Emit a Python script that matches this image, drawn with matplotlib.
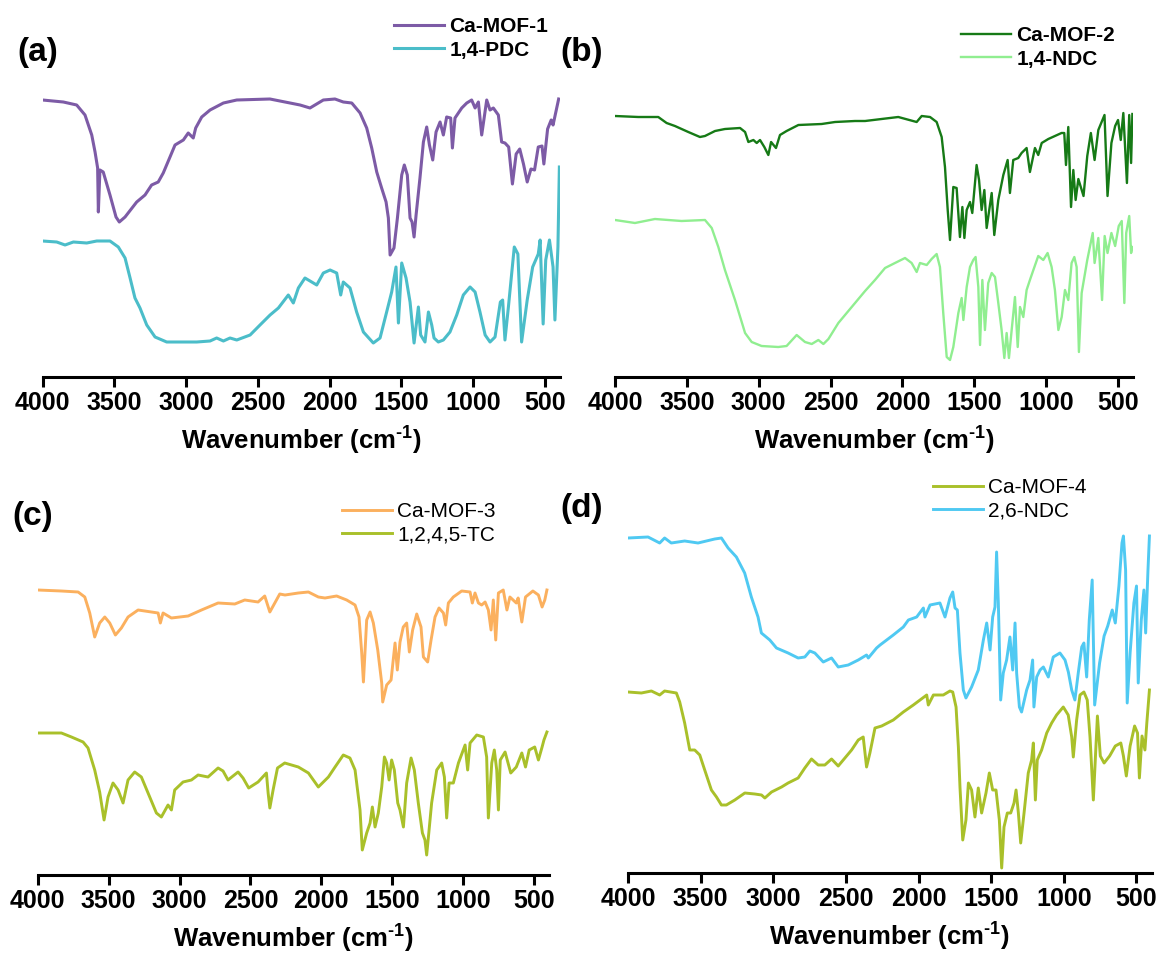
import matplotlib
matplotlib.use('Agg')
import matplotlib.pyplot as plt

plt.rcParams['font.family'] = ['Liberation Sans', 'DejaVu Sans']
plt.rcParams['mathtext.fontset'] = 'custom'
plt.rcParams['mathtext.bf'] = 'Liberation Sans:bold'
plt.rcParams['mathtext.rm'] = 'Liberation Sans:bold'

# ---- data (wavenumber in cm-1, transmittance in a.u.) ----
# (a) Ca-MOF-1 / 1,4-PDC
mof1_wn = [4000, 3855, 3762, 3704, 3657, 3634, 3616, 3611, 3600, 3577, 3530, 3488, 3465, 3425,
           3344, 3286, 3240, 3194, 3159, 3112, 3077, 3019, 2985, 2950, 2933, 2891, 2833, 2740,
           2647, 2416, 2276, 2206, 2137, 2044, 1963, 1905, 1846, 1788, 1742, 1707, 1672, 1638,
           1607, 1591, 1579, 1552, 1528, 1498, 1480, 1459, 1440, 1426, 1412, 1398, 1371, 1347,
           1324, 1305, 1282, 1259, 1231, 1208, 1185, 1157, 1145, 1127, 1080, 1045, 1011, 987,
           964, 941, 906, 883, 860, 825, 802, 779, 753, 727, 701, 676, 650, 624, 598, 573, 547,
           521, 508, 482, 457, 444, 405]
mof1_t = [277, 275, 272, 262, 242, 225, 209, 165, 207, 205, 182, 160, 155, 160,
          175, 182, 192, 195, 204, 220, 232, 237, 244, 239, 249, 260, 267, 274,
          277, 278, 274, 272, 269, 277, 278, 275, 274, 264, 249, 229, 205, 189,
          175, 159, 122, 129, 159, 202, 212, 202, 159, 155, 140, 162, 199, 235,
          250, 232, 217, 245, 255, 242, 260, 259, 229, 259, 269, 274, 277, 269,
          275, 242, 277, 267, 269, 262, 235, 234, 230, 193, 223, 228, 213, 195, 208, 207, 230,
          231, 213, 248, 257, 252, 278]

pdc_wn = [4000, 3901, 3843, 3785, 3692, 3622, 3530, 3472, 3425, 3390, 3356, 3321, 3274, 3216,
          3135, 2926, 2833, 2787, 2740, 2694, 2647, 2554, 2485, 2415, 2357, 2288, 2253, 2218,
          2172, 2125, 2090, 2044, 1997, 1951, 1923, 1905, 1858, 1812, 1765, 1696, 1649, 1603,
          1568, 1538, 1521, 1498, 1468, 1440, 1412, 1382, 1366, 1336, 1312, 1289, 1273, 1243,
          1208, 1162, 1115, 1069, 1022, 987, 953, 917, 883, 848, 811, 795, 779, 755, 714, 689,
          663, 624, 586, 547, 534, 513, 495, 469, 444, 431, 410, 400]
pdc_t = [136, 135, 132, 135, 134, 136, 136, 130, 119, 99, 79, 69, 52, 40,
         35, 35, 36, 39, 36, 39, 37, 42, 52, 62, 69, 82, 74, 89,
         99, 95, 92, 104, 107, 104, 82, 95, 89, 65, 45, 34, 39, 65,
         85, 110, 54, 114, 99, 75, 34, 70, 42, 35, 65, 52, 39, 35,
         37, 45, 62, 82, 90, 85, 65, 42, 35, 40, 75, 77, 37, 70, 130, 123,
         35, 77, 110, 123, 137, 53, 117, 137, 110, 57, 130, 210]

# (b) Ca-MOF-2 / 1,4-NDC
mof2_wn = [4000, 3838, 3699, 3641, 3583, 3490, 3409, 3374, 3304, 3235, 3130, 3095, 3072, 3037,
           3014, 2991, 2961, 2933, 2914, 2880, 2852, 2806, 2724, 2562, 2469, 2330, 2260, 2145,
           2029, 1901, 1866, 1808, 1762, 1727, 1704, 1685, 1669, 1646, 1623, 1600, 1583, 1569,
           1553, 1530, 1514, 1484, 1467, 1449, 1430, 1414, 1379, 1361, 1333, 1298, 1268, 1252,
           1229, 1194, 1171, 1136, 1113, 1078, 1055, 1031, 985, 939, 893, 874, 862, 846, 827,
           811, 795, 776, 740, 714, 689, 663, 637, 594, 573, 546, 520, 500, 481, 463, 438, 422,
           409, 400]
mof2_t = [261, 260, 260, 254, 251, 245, 240, 241, 246, 248, 249, 245, 235, 237,
          234, 237, 230, 222, 235, 229, 242, 246, 252, 253, 255, 256, 256, 258,
          260, 255, 261, 260, 255, 240, 210, 167, 137, 190, 189, 140, 170, 139,
          167, 175, 164, 212, 197, 167, 187, 149, 184, 142, 177, 202, 217, 184,
          217, 219, 224, 229, 205, 229, 222, 234, 238, 241, 244, 244, 212, 250, 170,
          207, 177, 198, 181, 221, 244, 217, 247, 262, 181, 234, 251, 257, 237, 264, 194, 262,
          214, 263]

ndc14_wn = [4000, 3861, 3722, 3537, 3374, 3327, 3281, 3235, 3165, 3095, 3049, 2980, 2864, 2806,
            2736, 2678, 2631, 2585, 2550, 2515, 2446, 2353, 2260, 2191, 2121, 2052, 1982, 1936,
            1901, 1878, 1831, 1797, 1762, 1739, 1716, 1692, 1669, 1646, 1611, 1588, 1576, 1553,
            1530, 1507, 1491, 1472, 1460, 1444, 1426, 1403, 1379, 1356, 1333, 1310, 1291, 1275,
            1259, 1240, 1217, 1198, 1182, 1159, 1136, 1113, 1089, 1055, 1020, 990, 962, 939,
            915, 892, 869, 846, 823, 804, 788, 772, 753, 714, 676, 663, 637, 611, 593, 573, 546,
            520, 495, 474, 456, 443, 422, 409, 400]
ndc14_t = [157, 154, 158, 156, 157, 149, 130, 107, 77, 44, 35, 31, 30, 31,
           42, 35, 33, 37, 33, 38, 54, 70, 86, 97, 109, 114, 119, 114,
           105, 114, 112, 118, 123, 110, 64, 20, 17, 30, 64, 79, 57, 90,
           110, 117, 120, 90, 32, 97, 47, 94, 104, 100, 74, 47, 19, 44,
           19, 47, 80, 30, 70, 60, 87, 97, 107, 121, 117, 124, 110, 87,
           47, 60, 87, 77, 114, 120, 110, 25, 84, 117, 144, 114, 139, 77, 141, 124, 144,
           131, 151, 156, 74, 144, 161, 124, 130]

# (c) Ca-MOF-3 / 1,2,4,5-TC
mof3_wn = [4000, 3833, 3715, 3668, 3633, 3598, 3563, 3527, 3492, 3452, 3410, 3363, 3292, 3198,
           3151, 3135, 3116, 3057, 2939, 2845, 2728, 2610, 2540, 2446, 2399, 2363, 2328, 2293,
           2256, 2162, 2091, 2021, 1974, 1892, 1821, 1762, 1734, 1715, 1703, 1680, 1656, 1633,
           1602, 1574, 1567, 1539, 1508, 1480, 1464, 1445, 1422, 1398, 1379, 1356, 1327, 1297,
           1280, 1250, 1226, 1198, 1170, 1139, 1123, 1104, 1069, 1010, 951, 935, 916, 892, 869,
           845, 822, 803, 787, 770, 751, 717, 691, 670, 625, 612, 586, 560, 508, 469, 443, 424,
           409]
mof3_t = [285, 284, 283, 278, 262, 238, 252, 258, 252, 240, 247, 258, 265, 263,
          262, 252, 262, 257, 259, 265, 272, 271, 275, 273, 279, 263, 272, 281,
          280, 282, 283, 278, 277, 279, 275, 270, 258, 222, 193, 255, 263, 252,
          225, 192, 173, 190, 195, 232, 205, 233, 248, 252, 223, 245, 261, 248,
          218, 213, 235, 258, 267, 262, 250, 272, 278, 284, 283, 272, 282, 272, 270,
          273, 265, 245, 275, 235, 282, 285, 265, 278, 272, 277, 253, 278, 284, 280, 268, 275,
          285]

tc_wn = [4000, 3833, 3762, 3680, 3645, 3598, 3563, 3532, 3504, 3469, 3433, 3398, 3363, 3316,
         3269, 3210, 3163, 3128, 3081, 3057, 3034, 2975, 2916, 2869, 2799, 2728, 2693, 2658,
         2587, 2552, 2512, 2446, 2387, 2375, 2363, 2340, 2309, 2258, 2162, 2091, 2021, 1950,
         1903, 1845, 1798, 1762, 1727, 1711, 1680, 1656, 1640, 1621, 1598, 1574, 1555, 1539,
         1522, 1504, 1485, 1461, 1445, 1421, 1398, 1367, 1344, 1316, 1287, 1269, 1257, 1240,
         1222, 1186, 1151, 1132, 1116, 1099, 1069, 1033, 986, 968, 951, 904, 857, 834, 822,
         798, 780, 763, 751, 738, 704, 664, 625, 586, 560, 534, 495, 469, 443, 430, 409]
tc_t = [142, 142, 138, 133, 127, 105, 83, 55, 78, 92, 85, 72, 95, 103,
        98, 78, 62, 58, 70, 65, 85, 93, 95, 100, 98, 107, 104, 95,
        103, 97, 87, 93, 102, 82, 67, 85, 107, 112, 108, 102, 88, 98,
        108, 120, 117, 105, 65, 25, 42, 52, 68, 48, 62, 88, 118, 112,
        95, 115, 105, 72, 65, 48, 92, 117, 105, 72, 42, 35, 20, 45,
        72, 105, 112, 98, 57, 92, 92, 112, 130, 105, 132, 140, 138, 118, 57,
        112, 125, 105, 65, 115, 123, 102, 108, 122, 108, 125, 128, 115, 128, 135, 143]

# (d) Ca-MOF-4 / 2,6-NDC
mof4_wn = [4000, 3908, 3839, 3782, 3748, 3667, 3644, 3610, 3575, 3541, 3506, 3472, 3426, 3391,
           3357, 3323, 3265, 3196, 3127, 3081, 3058, 3012, 2943, 2898, 2829, 2783, 2737, 2691,
           2645, 2599, 2553, 2507, 2461, 2415, 2381, 2358, 2335, 2300, 2254, 2174, 2105, 2036,
           1990, 1944, 1933, 1898, 1830, 1784, 1765, 1742, 1726, 1715, 1696, 1674, 1657, 1635,
           1612, 1589, 1566, 1536, 1513, 1490, 1467, 1444, 1428, 1412, 1389, 1366, 1343, 1329,
           1313, 1297, 1274, 1245, 1222, 1210, 1196, 1183, 1153, 1118, 1084, 1050, 1004, 970,
           946, 935, 912, 889, 862, 839, 820, 797, 787, 769, 749, 723, 685, 646, 608, 590, 570,
           544, 513, 493, 480, 462, 442, 429, 411]
mof4_t = [181, 180, 182, 178, 182, 180, 171, 150, 123, 123, 118, 103, 83, 76,
          68, 68, 73, 80, 79, 78, 75, 81, 86, 90, 95, 105, 114, 108,
          108, 114, 107, 115, 123, 133, 136, 106, 120, 145, 147, 153, 161, 168,
          173, 178, 168, 178, 178, 182, 181, 166, 126, 86, 33, 53, 90, 83,
          56, 85, 60, 80, 100, 83, 83, 53, 5, 46, 60, 60, 70, 83,
          60, 30, 60, 100, 113, 130, 73, 113, 123, 140, 150, 158, 166, 158,
          136, 116, 153, 178, 181, 173, 136, 73, 103, 157, 117, 110, 117, 127, 130, 117, 97,
          127, 147, 140, 95, 137, 123, 150, 183]

ndc26_wn = [4000, 3862, 3782, 3748, 3702, 3610, 3518, 3403, 3357, 3311, 3254, 3197, 3151, 3105,
            3082, 3024, 2978, 2898, 2829, 2783, 2748, 2714, 2656, 2599, 2553, 2484, 2415, 2358,
            2346, 2289, 2265, 2174, 2105, 2070, 2013, 1967, 1956, 1921, 1853, 1818, 1784, 1765,
            1749, 1733, 1715, 1692, 1674, 1635, 1589, 1554, 1531, 1508, 1490, 1474, 1463, 1451,
            1435, 1417, 1394, 1371, 1352, 1336, 1325, 1306, 1291, 1256, 1233, 1215, 1206, 1187,
            1164, 1141, 1107, 1073, 1027, 992, 969, 946, 924, 900, 877, 862, 843, 825, 805, 788,
            754, 723, 698, 667, 646, 621, 600, 590, 575, 564, 544, 518, 500, 488, 467, 449, 437,
            421, 411]
ndc26_t = [335, 336, 330, 335, 330, 332, 330, 334, 335, 325, 316, 300, 276, 256,
           240, 233, 225, 220, 215, 216, 222, 220, 211, 215, 206, 208, 213, 218,
           215, 225, 228, 238, 246, 253, 256, 265, 256, 268, 270, 256, 275, 281,
           265, 263, 220, 183, 175, 186, 203, 233, 250, 223, 256, 266, 321, 270,
           173, 200, 213, 236, 203, 250, 200, 166, 161, 183, 193, 213, 166, 196,
           203, 206, 196, 216, 220, 213, 201, 183, 173, 201, 226, 230, 196, 253, 293, 168,
           210, 237, 247, 263, 250, 287, 330, 337, 303, 170, 220, 270, 287, 190, 253, 283, 240,
           303, 337]

# colours
c_mof1, c_pdc = '#7d5ba6', '#4bbdc9'
c_mof2, c_ndc14 = '#167a16', '#90ee90'
c_mof3, c_tc = '#fbb05e', '#a9c02a'
c_mof4, c_ndc26 = '#a9c02a', '#4fc9f2'

W, H = 1163, 961
fig = plt.figure(figsize=(W / 100, H / 100), dpi=100)


def make_axes(left, axis_y, wn_per_px):
    width = (4000 - 395) / wn_per_px
    ax = fig.add_axes([left / W, (H - axis_y) / H, width / W, 350 / H])
    ax.set_xlim(4000, 395)
    ax.set_ylim(0, 350)
    for s in ['top', 'left', 'right']:
        ax.spines[s].set_visible(False)
    ax.spines['bottom'].set_linewidth(2.2)
    ax.set_yticks([])
    ax.set_xticks([4000, 3500, 3000, 2500, 2000, 1500, 1000, 500])
    ax.tick_params(axis='x', direction='out', length=7, width=2.2, labelsize=18, pad=3)
    plt.setp(ax.get_xticklabels(), fontweight='bold')
    ax.set_xlabel('Wavenumber (cm$^{\\text{-1}}$)', fontsize=18.5, fontweight='bold',
                  labelpad=6)
    ax.patch.set_alpha(0)
    return ax


def add_legend(ax, x, yc, weight):
    ax.legend(loc='center left', bbox_to_anchor=(x / W, 1 - yc / H),
              bbox_transform=fig.transFigure, frameon=False,
              prop={'size': 15, 'weight': weight}, handlelength=2.4,
              handletextpad=0.25, labelspacing=0.2, borderpad=0, borderaxespad=0)


# (a)
ax = make_axes(42.5, 377, 6.965)
ax.plot(mof1_wn, mof1_t, color=c_mof1, lw=2.2, label='Ca-MOF-1')
ax.plot(pdc_wn, pdc_t, color=c_pdc, lw=2.2, label='1,4-PDC')
add_legend(ax, 394, 38.5, 'bold')
fig.text(38 / W, 1 - 52 / H, '(a)', ha='center', va='center', fontsize=24, fontweight='bold')

# (b)
ax = make_axes(615, 377, 6.958)
ax.plot(mof2_wn, mof2_t, color=c_mof2, lw=1.7, label='Ca-MOF-2')
ax.plot(ndc14_wn, ndc14_t, color=c_ndc14, lw=1.7, label='1,4-NDC')
add_legend(ax, 961, 47.5, 'bold')
fig.text(582 / W, 1 - 52 / H, '(b)', ha='center', va='center', fontsize=24, fontweight='bold')

# (c)
ax = make_axes(37.7, 875, 7.052)
ax.plot(mof3_wn, mof3_t, color=c_mof3, lw=2.1, label='Ca-MOF-3')
ax.plot(tc_wn, tc_t, color=c_tc, lw=2.1, label='1,2,4,5-TC')
add_legend(ax, 342, 523.5, 'normal')
fig.text(33 / W, 1 - 517 / H, '(c)', ha='center', va='center', fontsize=24, fontweight='bold')

# (d)
ax = make_axes(628, 873, 6.883)
ax.plot(mof4_wn, mof4_t, color=c_mof4, lw=2.1, label='Ca-MOF-4')
ax.plot(ndc26_wn, ndc26_t, color=c_ndc26, lw=2.1, label='2,6-NDC')
add_legend(ax, 933, 499, 'normal')
fig.text(582 / W, 1 - 508 / H, '(d)', ha='center', va='center', fontsize=24, fontweight='bold')

fig.savefig('out.png', dpi=100)
